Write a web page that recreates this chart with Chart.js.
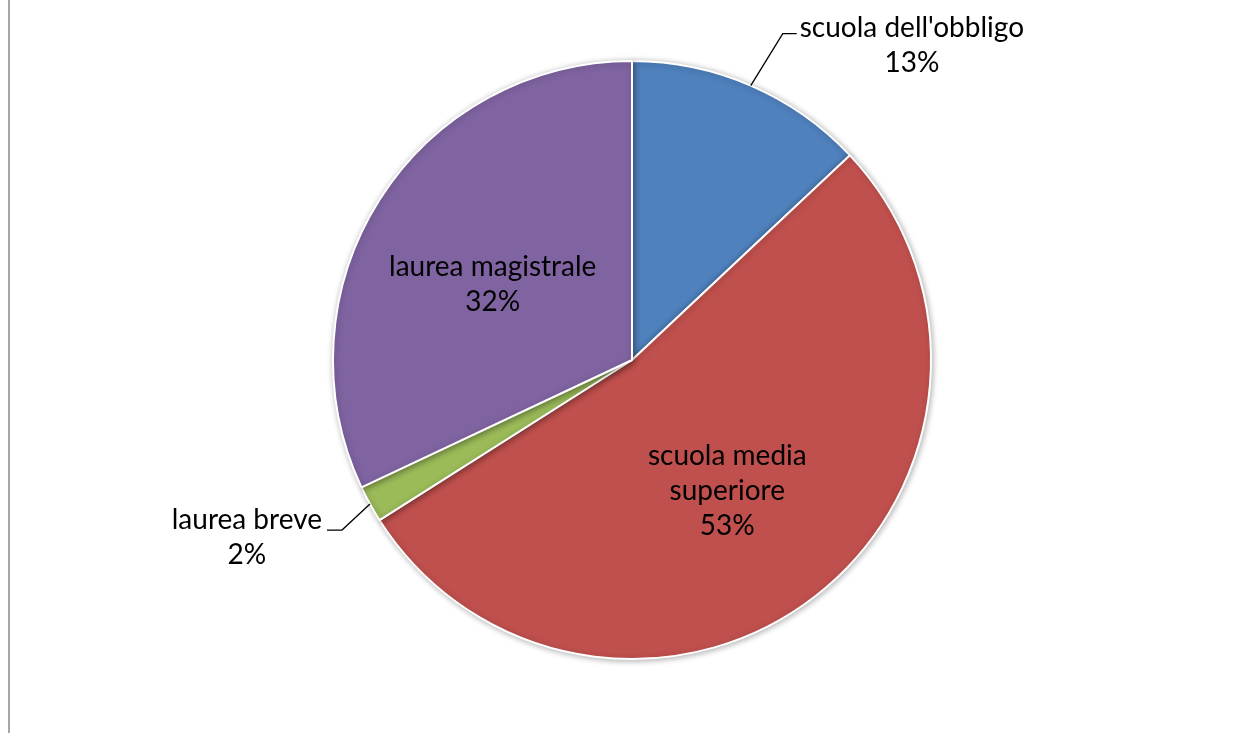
<!DOCTYPE html>
<html>
<head>
<meta charset="utf-8">
<script src="https://cdn.jsdelivr.net/npm/chart.js@4"></script>
<style>
  html, body { margin: 0; padding: 0; background: #fff; }
  #wrap { position: relative; width: 1244px; height: 733px; }
  #edge { position: absolute; left: 8px; top: 0; width: 2px; height: 733px; background: #a6a6a6; }
</style>
</head>
<body>
<div id="wrap">
  <div id="edge"></div>
  <canvas id="pieChart" width="1244" height="733"></canvas>
</div>
<script>
const categories = ["scuola dell'obbligo", "scuola media superiore", "laurea breve", "laurea magistrale"];
const shares = [13, 53, 2, 32];
const colors = ["#4F81BD", "#C0504D", "#9BBB59", "#8064A2"];

// label text per slice, and whether it sits inside or outside with a leader
const labelLines = [
  ["scuola dell'obbligo", "13%"],
  ["scuola media", "superiore", "53%"],
  ["laurea breve", "2%"],
  ["laurea magistrale", "32%"]
];
const labelMode = ["outside", "inside", "outside", "inside"];
// leader elbow offset from the slice edge (outside labels only)
const leaderBend = [[32, -52], null, [-28, 26], null];

const FONT = "28px Lato, 'Open Sans', sans-serif";
const LINE_H = 35;

// soft shadow under the pie
const pieShadow = {
  id: 'pieShadow',
  beforeDatasetsDraw(chart) {
    const ctx = chart.ctx;
    ctx.save();
    ctx.shadowColor = 'rgba(0,0,0,0.3)';
    ctx.shadowBlur = 6;
    ctx.shadowOffsetX = 1;
    ctx.shadowOffsetY = 1;
  },
  afterDatasetsDraw(chart) {
    chart.ctx.restore();
  }
};

const sliceLabels = {
  id: 'sliceLabels',
  afterDatasetsDraw(chart) {
    const ctx = chart.ctx;
    const arcs = chart.getDatasetMeta(0).data;
    ctx.save();
    ctx.font = FONT;
    ctx.fillStyle = '#000';
    ctx.textBaseline = 'middle';
    ctx.textAlign = 'center';
    arcs.forEach((arc, i) => {
      const mid = (arc.startAngle + arc.endAngle) / 2;
      const r = arc.outerRadius;
      const lines = labelLines[i];
      if (labelMode[i] === 'inside') {
        const cx = arc.x + Math.cos(mid) * r * 0.52 - (Math.cos(mid) < 0 ? 8 : 0);
        const cy = arc.y + Math.sin(mid) * r * 0.52 + 8;
        const top = cy - (lines.length - 1) * LINE_H / 2;
        lines.forEach((t, k) => ctx.fillText(t, cx, top + k * LINE_H));
      } else {
        const right = Math.cos(mid) > 0;
        const x0 = arc.x + Math.cos(mid) * r;
        const y0 = arc.y + Math.sin(mid) * r;
        const x1 = x0 + leaderBend[i][0];
        const y1 = y0 + leaderBend[i][1];
        const x2 = x1 + (right ? 14 : -15);
        ctx.strokeStyle = '#000';
        ctx.lineWidth = 1.3;
        ctx.beginPath();
        ctx.moveTo(x0, y0);
        ctx.lineTo(x1, y1);
        ctx.lineTo(x2, y1);
        ctx.stroke();
        const w = Math.max(...lines.map(t => ctx.measureText(t).width));
        const cx = right ? x2 + 3 + w / 2 : x2 - 5 - w / 2;
        const top = y1 - (right ? 6 : 10);
        lines.forEach((t, k) => ctx.fillText(t, cx, top + k * LINE_H));
      }
    });
    ctx.restore();
  }
};

new Chart("pieChart", {
  type: "pie",
  data: {
    labels: categories,
    datasets: [{
      data: shares,
      backgroundColor: colors,
      borderColor: "#ffffff",
      borderWidth: 2
    }]
  },
  options: {
    responsive: false,
    animation: false,
    layout: { padding: { top: 60, bottom: 73, left: 20, right: 0 } },
    plugins: {
      legend: { display: false },
      tooltip: { enabled: false }
    }
  },
  plugins: [pieShadow, sliceLabels]
});
</script>
</body>
</html>
